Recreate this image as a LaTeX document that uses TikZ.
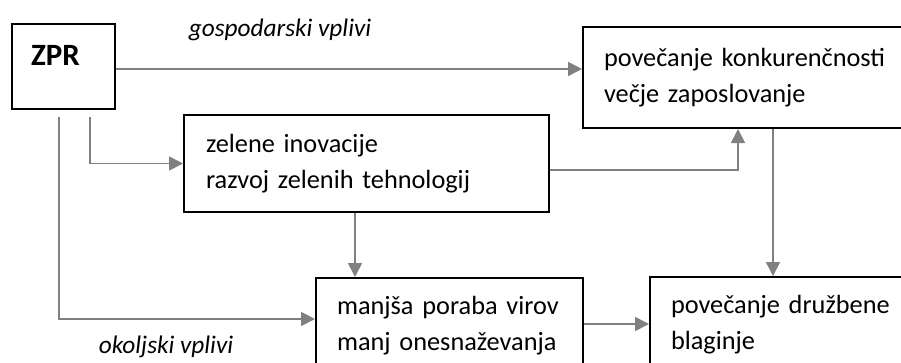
\documentclass[tikz,border=0pt]{standalone}
\usepackage{fontspec}
\setmainfont{Carlito}
\usetikzlibrary{arrows.meta, positioning, calc}
\definecolor{linegray}{HTML}{808080}
\newcommand{\boxfont}{\fontsize{26.3}{36}\selectfont}
\tikzset{
    box/.style={draw, line width=2pt, align=left, anchor=north west, inner xsep=21pt, inner ysep=0pt, font=\boxfont},
    arr/.style={draw=linegray, line width=1.7pt, -{Triangle[length=14pt, width=14pt]}, color=linegray},
    effect/.style={font=\fontsize{25.3}{30}\selectfont\itshape}
}

\begin{document}
\begin{tikzpicture}[x=1pt, y=-1pt]
\useasboundingbox (0,0) rectangle (901,362);
\clip (0,0) rectangle (901,362);
% boxes
\node[box, minimum width=103pt, minimum height=85pt, text height=41pt, text depth=44pt, inner xsep=19pt, text width=65pt, font=\fontsize{31}{35}\selectfont\bfseries] (zpr) at (11,23) {ZPR};
\node[box, minimum width=332pt, minimum height=101pt, text width=290pt] (konk) at (582,26) {\mbox{povečanje konkurenčnosti}\\\mbox{večje zaposlovanje}};
\node[box, minimum width=365pt, minimum height=97pt, text width=321pt] (zel) at (183,114) {\mbox{zelene inovacije}\\\mbox{razvoj zelenih tehnologij}};
\node[box, minimum width=267pt, minimum height=96pt, text width=225pt] (manj) at (315,277) {\mbox{manjša poraba virov}\\\mbox{manj onesnaževanja}};
\node[box, minimum width=270pt, minimum height=96pt, text width=228pt] (druz) at (649,276) {\mbox{povečanje družbene}\\\mbox{blaginje}};
% effects
\node[effect] (gosp) at (280,30) {gospodarski vplivi};
\node[effect] (okol) at (166,347) {okoljski vplivi};
% connectors
\draw[arr] ([yshift=-2.5pt]zpr.east) -- ([yshift=-2.5pt]zpr.east -| konk.west);
\draw[arr, shorten <=7pt] ([xshift=-4.5pt]zpr.south) |- ([yshift=7pt]manj.west);
\draw[arr, shorten <=7pt] ([xshift=26.5pt]zpr.south) |- (zel.west);
\draw[arr] ([yshift=-6.5pt]zel.east) -| (konk.south -| 738,0);
\draw[arr] (konk.south -| 773,0) -- (druz.north -| 773,0);
\draw[arr] (zel.south -| 355,0) -- (manj.north -| 355,0);
\draw[arr] ([yshift=2pt]manj.east) -- ([yshift=2pt]manj.east -| druz.west);
\end{tikzpicture}
\end{document}
